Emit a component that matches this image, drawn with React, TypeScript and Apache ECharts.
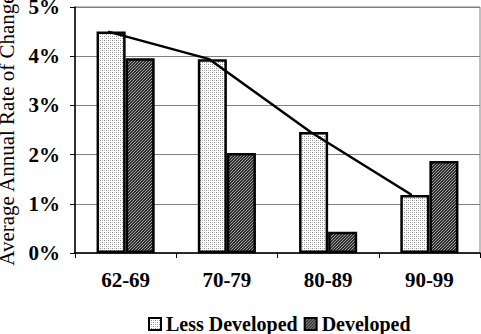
import React, { useEffect, useRef } from "react";
import * as echarts from "echarts";

const categories = ["62-69", "70-79", "80-89", "90-99"];
const lessDeveloped = [4.5, 3.94, 2.46, 1.18];
const developed = [3.96, 2.03, 0.43, 1.87];
const yTicks = [0, 1, 2, 3, 4, 5];

function makeDots(): HTMLCanvasElement {
  const c = document.createElement("canvas");
  c.width = 4;
  c.height = 4;
  const ctx = c.getContext("2d")!;
  ctx.fillStyle = "#ffffff";
  ctx.fillRect(0, 0, 4, 4);
  ctx.fillStyle = "#8a8a8a";
  ctx.fillRect(0, 0, 1, 1);
  ctx.fillRect(2, 2, 1, 1);
  ctx.fillStyle = "#c8c8c8";
  ctx.fillRect(2, 0, 1, 1);
  ctx.fillRect(0, 2, 1, 1);
  return c;
}

function makeHatch(): HTMLCanvasElement {
  const c = document.createElement("canvas");
  c.width = 3;
  c.height = 3;
  const ctx = c.getContext("2d")!;
  for (let x = 0; x < 3; x++) {
    for (let y = 0; y < 3; y++) {
      ctx.fillStyle = (x + y) % 3 === 0 ? "#a0a0a0" : "#303030";
      ctx.fillRect(x, y, 1, 1);
    }
  }
  return c;
}

export default function App() {
  const ref = useRef<HTMLDivElement>(null);
  useEffect(() => {
    if (!ref.current) return;
    const chart = echarts.init(ref.current, null, { renderer: "svg" });
    const dots = { image: makeDots(), repeat: "repeat" };
    const hatch = { image: makeHatch(), repeat: "repeat" };
    const barFrac = 0.287;
    const font = "Liberation Serif";
    const lineData = lessDeveloped.map((v, i) => [i - barFrac / 2 - 0.03, v]);
    chart.setOption({
      animation: false,
      backgroundColor: "#ffffff",
      grid: {
        left: 75,
        right: 1,
        top: 7,
        bottom: 81,
        containLabel: false,
        outerBoundsMode: "none",
        show: true,
        borderColor: "#808080",
        borderWidth: 1,
      },
      legend: {
        data: ["Less Developed", "Developed"],
        left: 143,
        top: 309,
        icon: "rect",
        itemWidth: 12,
        itemHeight: 12,
        itemGap: 6,
        textStyle: { fontFamily: font, fontWeight: "bold", fontSize: 20, color: "#000" },
      },
      xAxis: [
        {
          type: "category",
          data: categories,
          axisLine: { lineStyle: { color: "#000", width: 1.5 } },
          axisTick: { show: true, length: 5, lineStyle: { color: "#000" } },
          axisLabel: {
            fontFamily: font,
            fontWeight: "bold",
            fontSize: 21,
            color: "#000",
            margin: 16,
          },
        },
        {
          type: "value",
          min: -0.5,
          max: 3.5,
          show: false,
        },
      ],
      yAxis: {
        type: "value",
        min: 0,
        max: 5,
        interval: 1,
        name: "Average Annual Rate of Change",
        nameLocation: "middle",
        nameGap: 52,
        nameTextStyle: { fontFamily: font, fontSize: 21, color: "#000" },
        axisLine: { show: true, onZero: false, lineStyle: { color: "#000", width: 1.5 } },
        axisTick: { show: true, length: 5, lineStyle: { color: "#000" } },
        axisLabel: {
          fontFamily: font,
          fontWeight: "bold",
          fontSize: 21,
          color: "#000",
          margin: 15,
          formatter: (v: number) => (yTicks.includes(v) ? v + "%" : ""),
        },
        splitLine: { lineStyle: { color: "#808080", width: 1.2 } },
      },
      series: [
        {
          name: "Less Developed",
          type: "bar",
          data: lessDeveloped,
          barWidth: "28.7%",
          barGap: "0%",
          itemStyle: { color: dots, borderColor: "#000", borderWidth: 2.5 },
        },
        {
          name: "Developed",
          type: "bar",
          data: developed,
          barWidth: "28.7%",
          barGap: "0%",
          itemStyle: { color: hatch, borderColor: "#000", borderWidth: 2.5 },
        },
        {
          name: "Trend",
          type: "line",
          xAxisIndex: 1,
          data: lineData,
          symbol: "none",
          lineStyle: { color: "#000", width: 2.5 },
          z: 5,
        },
      ],
    });
    return () => chart.dispose();
  }, []);
  return (
    <div
      ref={ref}
      style={{ position: "fixed", left: 0, top: 0, width: 481, height: 334 }}
    />
  );
}
